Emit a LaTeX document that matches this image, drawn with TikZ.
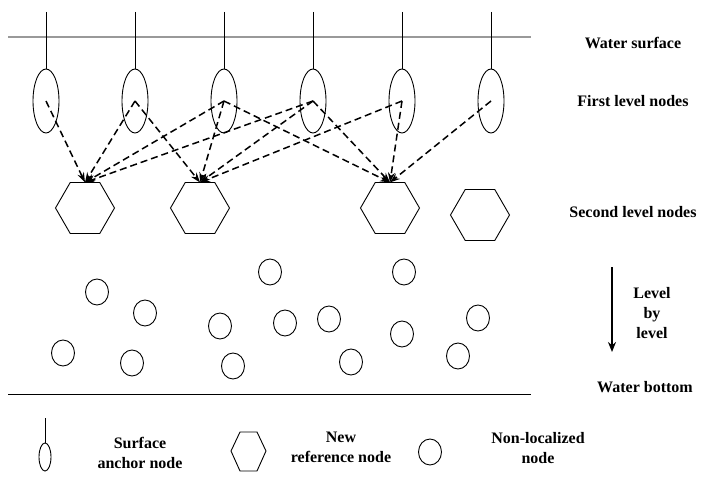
\documentclass[tikz,border=0pt]{standalone}
\usepackage{fontspec}
\setmainfont{Liberation Serif}
\usetikzlibrary{shapes.geometric,arrows.meta}
\tikzset{
  anchornode/.style={draw, ellipse, inner sep=0pt, outer sep=0pt, minimum width=26pt, minimum height=64pt, line width=0.9pt},
  refnode/.style={draw, regular polygon, regular polygon sides=6, inner sep=0pt, outer sep=0pt, minimum size=59pt, line width=0.9pt},
  freenode/.style={draw, ellipse, inner sep=0pt, outer sep=0pt, minimum width=23pt, minimum height=26pt, line width=0.9pt},
  lbl/.style={font=\fontsize{16}{20}\selectfont\bfseries, align=center},
  link/.style={dash pattern=on 7pt off 4pt, line width=1.5pt, ->}
}
\begin{document}
\begin{tikzpicture}[x=1pt, y=-1pt, >={Stealth[length=10pt,width=7pt]}]
    \useasboundingbox (0,0) rectangle (706,486);
    \draw[gray!80, line width=2pt] (8,37) -- (531,37);
    \draw[line width=1pt] (8,394) -- (531,394);
    \foreach \x [count=\i] in {46,135,224,313,402,491} {
        \coordinate (t\i) at (\x,12);
        \node[anchornode] (e\i) at (\x,101) {};
        \draw[line width=0.9pt] (t\i) -- (e\i.north);
    }
    \node[refnode] (h1) at (85,208) {};
    \node[refnode] (h2) at (200,208) {};
    \node[refnode] (h3) at (390,208) {};
    \node[refnode] (h4) at (480,215) {};
    \foreach \a/\b in {1/1,2/1,3/1,4/1,2/2,3/2,4/2,5/2,3/3,4/3,5/3,6/3}
        \draw[link] (e\a.center) -- (h\b.north);
    \foreach \x/\y [count=\i] in {97/292,145/313,63/353,132/363,220/326,233/366,270/272,285/323,329/319,404/272,351/362,402/334,478/318,458/356}
        \node[freenode] (c\i) at (\x,\y) {};
    \node[lbl] (surf) at (633,43) {Water surface};
    \node[lbl] (first) at (633,101) {First level nodes};
    \node[lbl] (second) at (633,212) {Second level nodes};
    \node[lbl] (level) at (652,313) {Level\\by\\level};
    \node[lbl] (bottom) at (645,387) {Water bottom};
    \coordinate (down1) at (612,267);
    \coordinate (down2) at (612,352);
    \draw[->, line width=1.8pt, >={Stealth[length=10pt,width=8pt]}] (down1) -- (down2);
    \coordinate (lt) at (45,418);
    \node[draw, ellipse, inner sep=0pt, minimum width=12pt, minimum height=28pt, line width=0.9pt] (lanchor) at (45,457) {};
    \draw[line width=0.9pt] (lt) -- (lanchor.north);
    \node[lbl] (lanchortxt) at (140,453) {Surface\\anchor node};
    \draw[line width=0.9pt] (231,451) -- (240,432) -- (257,432) -- (266,451) -- (257,471) -- (240,471) -- cycle;
    \node[lbl] (lreftxt) at (341,447) {New\\reference node};
    \node[freenode] (lfree) at (430,452) {};
    \node[lbl] (lfreetxt) at (538,448) {Non-localized\\node};
\end{tikzpicture}
\end{document}
